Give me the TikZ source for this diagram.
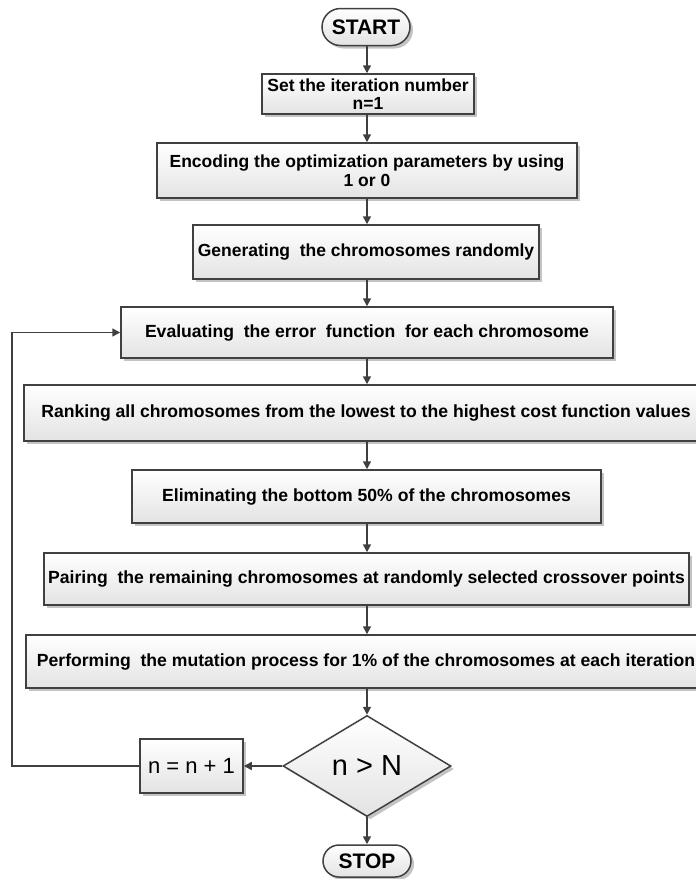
\documentclass[tikz,border=0pt]{standalone}
\usepackage{fontspec}
\setmainfont{Liberation Sans}
\usetikzlibrary{arrows.meta,shapes.geometric,shapes.misc,shadows}
\definecolor{edgecol}{HTML}{404040}
\definecolor{shadcol}{HTML}{C4C4C4}
\tikzset{
  base/.style={draw=edgecol, line width=1.5pt, top color=white, bottom color=black!11,
    drop shadow={shadow xshift=3pt, shadow yshift=-3pt, fill=shadcol, opacity=1},
    inner sep=0pt, align=center, text=black},
  topbox/.style={base, rectangle, font=\fontsize{17.5}{19}\selectfont\bfseries},
  lowbox/.style={base, rectangle, font=\fontsize{17.6}{19}\selectfont\bfseries},
  term/.style={base, rounded rectangle, font=\fontsize{21}{23}\selectfont\bfseries},
  decide/.style={base, diamond, font=\fontsize{29}{31}\selectfont},
  plainbox/.style={base, rectangle, font=\fontsize{22}{24}\selectfont},
  flow/.style={draw=edgecol, line width=1.5pt, -{Triangle[length=8pt,width=8pt]}},
}
\begin{document}
\begin{tikzpicture}[x=1pt,y=-1pt]
\useasboundingbox (0,0) rectangle (696,879);
\node[term, minimum width=88pt, minimum height=37pt] (start) at (366,27) {START};
\node[topbox, minimum width=212pt, minimum height=40pt] (b1) at (368,94) {Set the iteration number\\[-1pt] n=1};
\node[topbox, minimum width=420pt, minimum height=55pt] (b2) at (367,170.5) {Encoding the optimization parameters by using\\ 1 or 0};
\node[topbox, minimum width=346pt, minimum height=54pt] (b3) at (366,252) {Generating\ \ the chromosomes randomly};
\node[lowbox, minimum width=492pt, minimum height=51pt] (b4) at (367,332.5) {Evaluating\ \ the error\ \ function\ \ for each chromosome};
\node[lowbox, minimum width=684pt, minimum height=56pt] (b5) at (366,413) {Ranking all chromosomes from the lowest to the highest cost function values};
\node[lowbox, minimum width=469pt, minimum height=53pt] (b6) at (366.5,496.5) {Eliminating the bottom 50\%\ of the chromosomes};
\node[lowbox, minimum width=645pt, minimum height=52pt] (b7) at (366.5,579) {Pairing\ \ the remaining chromosomes at randomly selected crossover points};
\node[lowbox, minimum width=680pt, minimum height=53pt] (b8) at (366,661.5) {Performing\ \ the mutation process for 1\%\ of the chromosomes at each iteration};
\node[decide, minimum width=168pt, minimum height=101pt] (dec) at (367,766) {n > N};
\node[plainbox, minimum width=103pt, minimum height=54pt] (inc) at (191.5,766) {n = n + 1};
\node[term, minimum width=88pt, minimum height=32pt] (stop) at (367,861) {STOP};
\coordinate (lb) at (12,766);
\coordinate (lt) at (12,332.5);

\draw[flow] (dec.north |- start.south) -- (dec.north |- b1.north);
\draw[flow] (dec.north |- b1.south) -- (dec.north |- b2.north);
\draw[flow] (dec.north |- b2.south) -- (dec.north |- b3.north);
\draw[flow] (dec.north |- b3.south) -- (dec.north |- b4.north);
\draw[flow] (dec.north |- b4.south) -- (dec.north |- b5.north);
\draw[flow] (dec.north |- b5.south) -- (dec.north |- b6.north);
\draw[flow] (dec.north |- b6.south) -- (dec.north |- b7.north);
\draw[flow] (dec.north |- b7.south) -- (dec.north |- b8.north);
\draw[flow] (dec.north |- b8.south) -- (dec.north);
\draw[flow] (dec.south) -- (stop.north);
\draw[flow] (dec.west) -- (inc.east);
\draw[flow] (inc.west) -- (lb) -- (lt) -- (b4.west);
\end{tikzpicture}
\end{document}
